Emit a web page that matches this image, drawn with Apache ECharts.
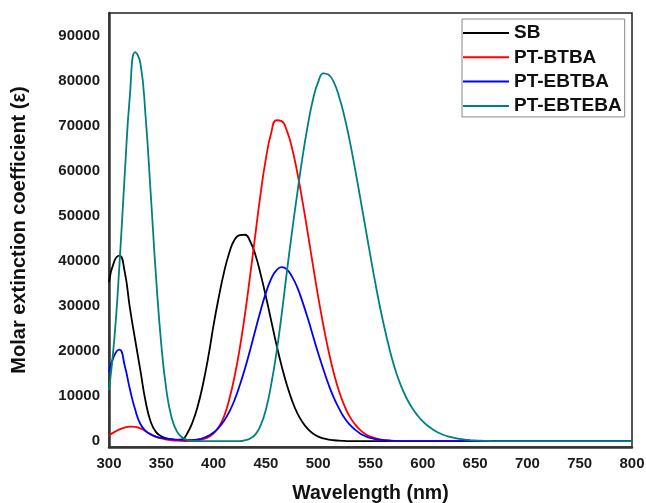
<!DOCTYPE html>
<html>
<head>
<meta charset="utf-8">
<script src="https://cdn.jsdelivr.net/npm/echarts@6/dist/echarts.min.js"></script>
<style>
html,body{margin:0;padding:0;background:#fff;}
#chart{width:646px;height:503px;}
</style>
</head>
<body>
<div id="chart"></div>
<script>
const seriesNames = ['SB', 'PT-BTBA', 'PT-EBTBA', 'PT-EBTEBA'];
const wavelength = [
300,305,310,315,320,325,330,335,340,345,
350,355,360,365,370,375,380,385,390,395,
400,405,410,415,420,425,430,435,440,445,
450,455,460,465,470,475,480,485,490,495,
500,505,510,515,520,525,530,535,540,545,
550,555,560,565,570,575,580,585,590,595,
600,605,610,615,620,625,630,635,640,645,
650,655,660,665,670,675,680,700,750,800];
const sbValues = [
35300,39900,41150,37600,29500,22500,15700,8800,4200,2000,
1100,600,350,250,400,1800,4300,7900,12800,18800,
25800,32000,37500,41800,44700,45700,45800,44300,41300,37000,
32100,26800,21500,16700,12500,9000,6200,4200,2700,1700,
1000,600,350,200,100,50,0,0,0,0,
0,0,0,0,0,0,0,0,0,0,
0,0,0,0,0,0,0,0,0,0,
0,0,0,0,0,0,0,0,0,0];
const ptbtbaValues = [
1300,2000,2600,3000,3200,3150,2800,2200,1500,1000,
600,350,200,100,50,0,0,150,450,900,
1700,3200,5500,9300,14300,20600,28200,36900,46000,55000,
62700,68300,71200,71000,68900,65000,59600,53200,46200,39000,
32000,25600,19900,15000,11000,7900,5500,3800,2500,1600,
1000,600,350,200,100,50,0,0,0,0,
0,0,0,0,0,0,0,0,0,0,
0,0,0,0,0,0,0,0,0,0];
const ptebtbaValues = [
15400,19000,20300,16800,11500,7000,3800,2300,1500,950,
700,550,450,350,300,250,250,400,700,1200,
1900,3000,4500,6500,9100,12400,16100,20300,24700,29000,
32900,36000,37900,38600,38100,36500,34100,30900,27300,23400,
19500,15900,12500,9600,7200,5200,3700,2600,1700,1100,
700,450,260,150,80,40,0,0,0,0,
0,0,0,0,0,0,0,0,0,0,
0,0,0,0,0,0,0,0,0,0];
const ptebtebaValues = [
11300,22400,39100,59000,76800,86300,83900,72000,54500,36300,
21400,11100,5100,2100,800,300,100,0,0,0,
0,0,0,0,0,0,200,600,1500,3500,
7000,12500,19500,28000,37500,46500,55000,63000,70000,75800,
79700,81600,81300,79600,76400,72100,66800,60700,54200,47600,
41000,34600,28700,23500,18800,14900,11800,9300,7300,5700,
4400,3350,2520,1870,1370,990,710,500,350,240,
160,100,60,30,10,0,0,0,0,0];
const yTickLabels = [0,10000,20000,30000,40000,50000,60000,70000,80000,90000];
const xTickLabels = [300,350,400,450,500,550,600,650,700,750,800];

const colors = ['#000000', '#ff0000', '#0000ff', '#008080'];
const valueSets = [sbValues, ptbtbaValues, ptebtbaValues, ptebtebaValues];
const font = 'Arial, "Liberation Sans", sans-serif';

const chart = echarts.init(document.getElementById('chart'), null, {renderer: 'canvas'});
chart.setOption({
  animation: false,
  backgroundColor: '#ffffff',
  grid: {left: 109, right: 14, top: 13, bottom: 56, show: true, borderColor: '#222', borderWidth: 1.5,
    containLabel: false, outerBoundsMode: 'none'},
  legend: {
    orient: 'vertical', left: 462, top: 19,
    padding: [4.5, 3, 1.5, 1],
    borderColor: '#888', borderWidth: 1,
    icon: 'rect',
    itemWidth: 46, itemHeight: 2, itemGap: 5.3,
    textStyle: {fontFamily: font, fontWeight: 'bold', fontSize: 19, color: '#111', lineHeight: 18},
    data: seriesNames
  },
  xAxis: {
    type: 'value', min: 300, max: 800, interval: 50,
    name: 'Wavelength (nm)', nameLocation: 'middle', nameGap: 37,
    nameTextStyle: {fontFamily: font, fontWeight: 'bold', fontSize: 19.5, color: '#111'},
    axisLine: {onZero: false, lineStyle: {color: '#333', width: 2.5}},
    axisTick: {show: false},
    splitLine: {show: false},
    axisLabel: {fontFamily: font, fontWeight: 'bold', fontSize: 15, color: '#1a1a1a', margin: 9,
      customValues: xTickLabels, formatter: v => String(v)}
  },
  yAxis: {
    type: 'value', min: -1300, max: 95000,
    name: 'Molar extinction coefficient (\u03b5)', nameLocation: 'middle', nameGap: 80,
    nameTextStyle: {fontFamily: font, fontWeight: 'bold', fontSize: 20, color: '#111'},
    axisLine: {lineStyle: {color: '#333', width: 2.5}},
    axisTick: {show: false},
    splitLine: {show: false},
    axisLabel: {fontFamily: font, fontWeight: 'bold', fontSize: 15, color: '#1a1a1a', margin: 9,
      customValues: yTickLabels, formatter: v => String(v)}
  },
  series: seriesNames.map((n, i) => ({
    name: n, type: 'line', smooth: 0.5, symbol: 'none', showSymbol: false,
    color: colors[i],
    itemStyle: {color: colors[i]},
    lineStyle: {color: colors[i], width: 1.8},
    data: wavelength.map((w, k) => [w, valueSets[i][k]])
  }))
});
</script>
</body>
</html>
